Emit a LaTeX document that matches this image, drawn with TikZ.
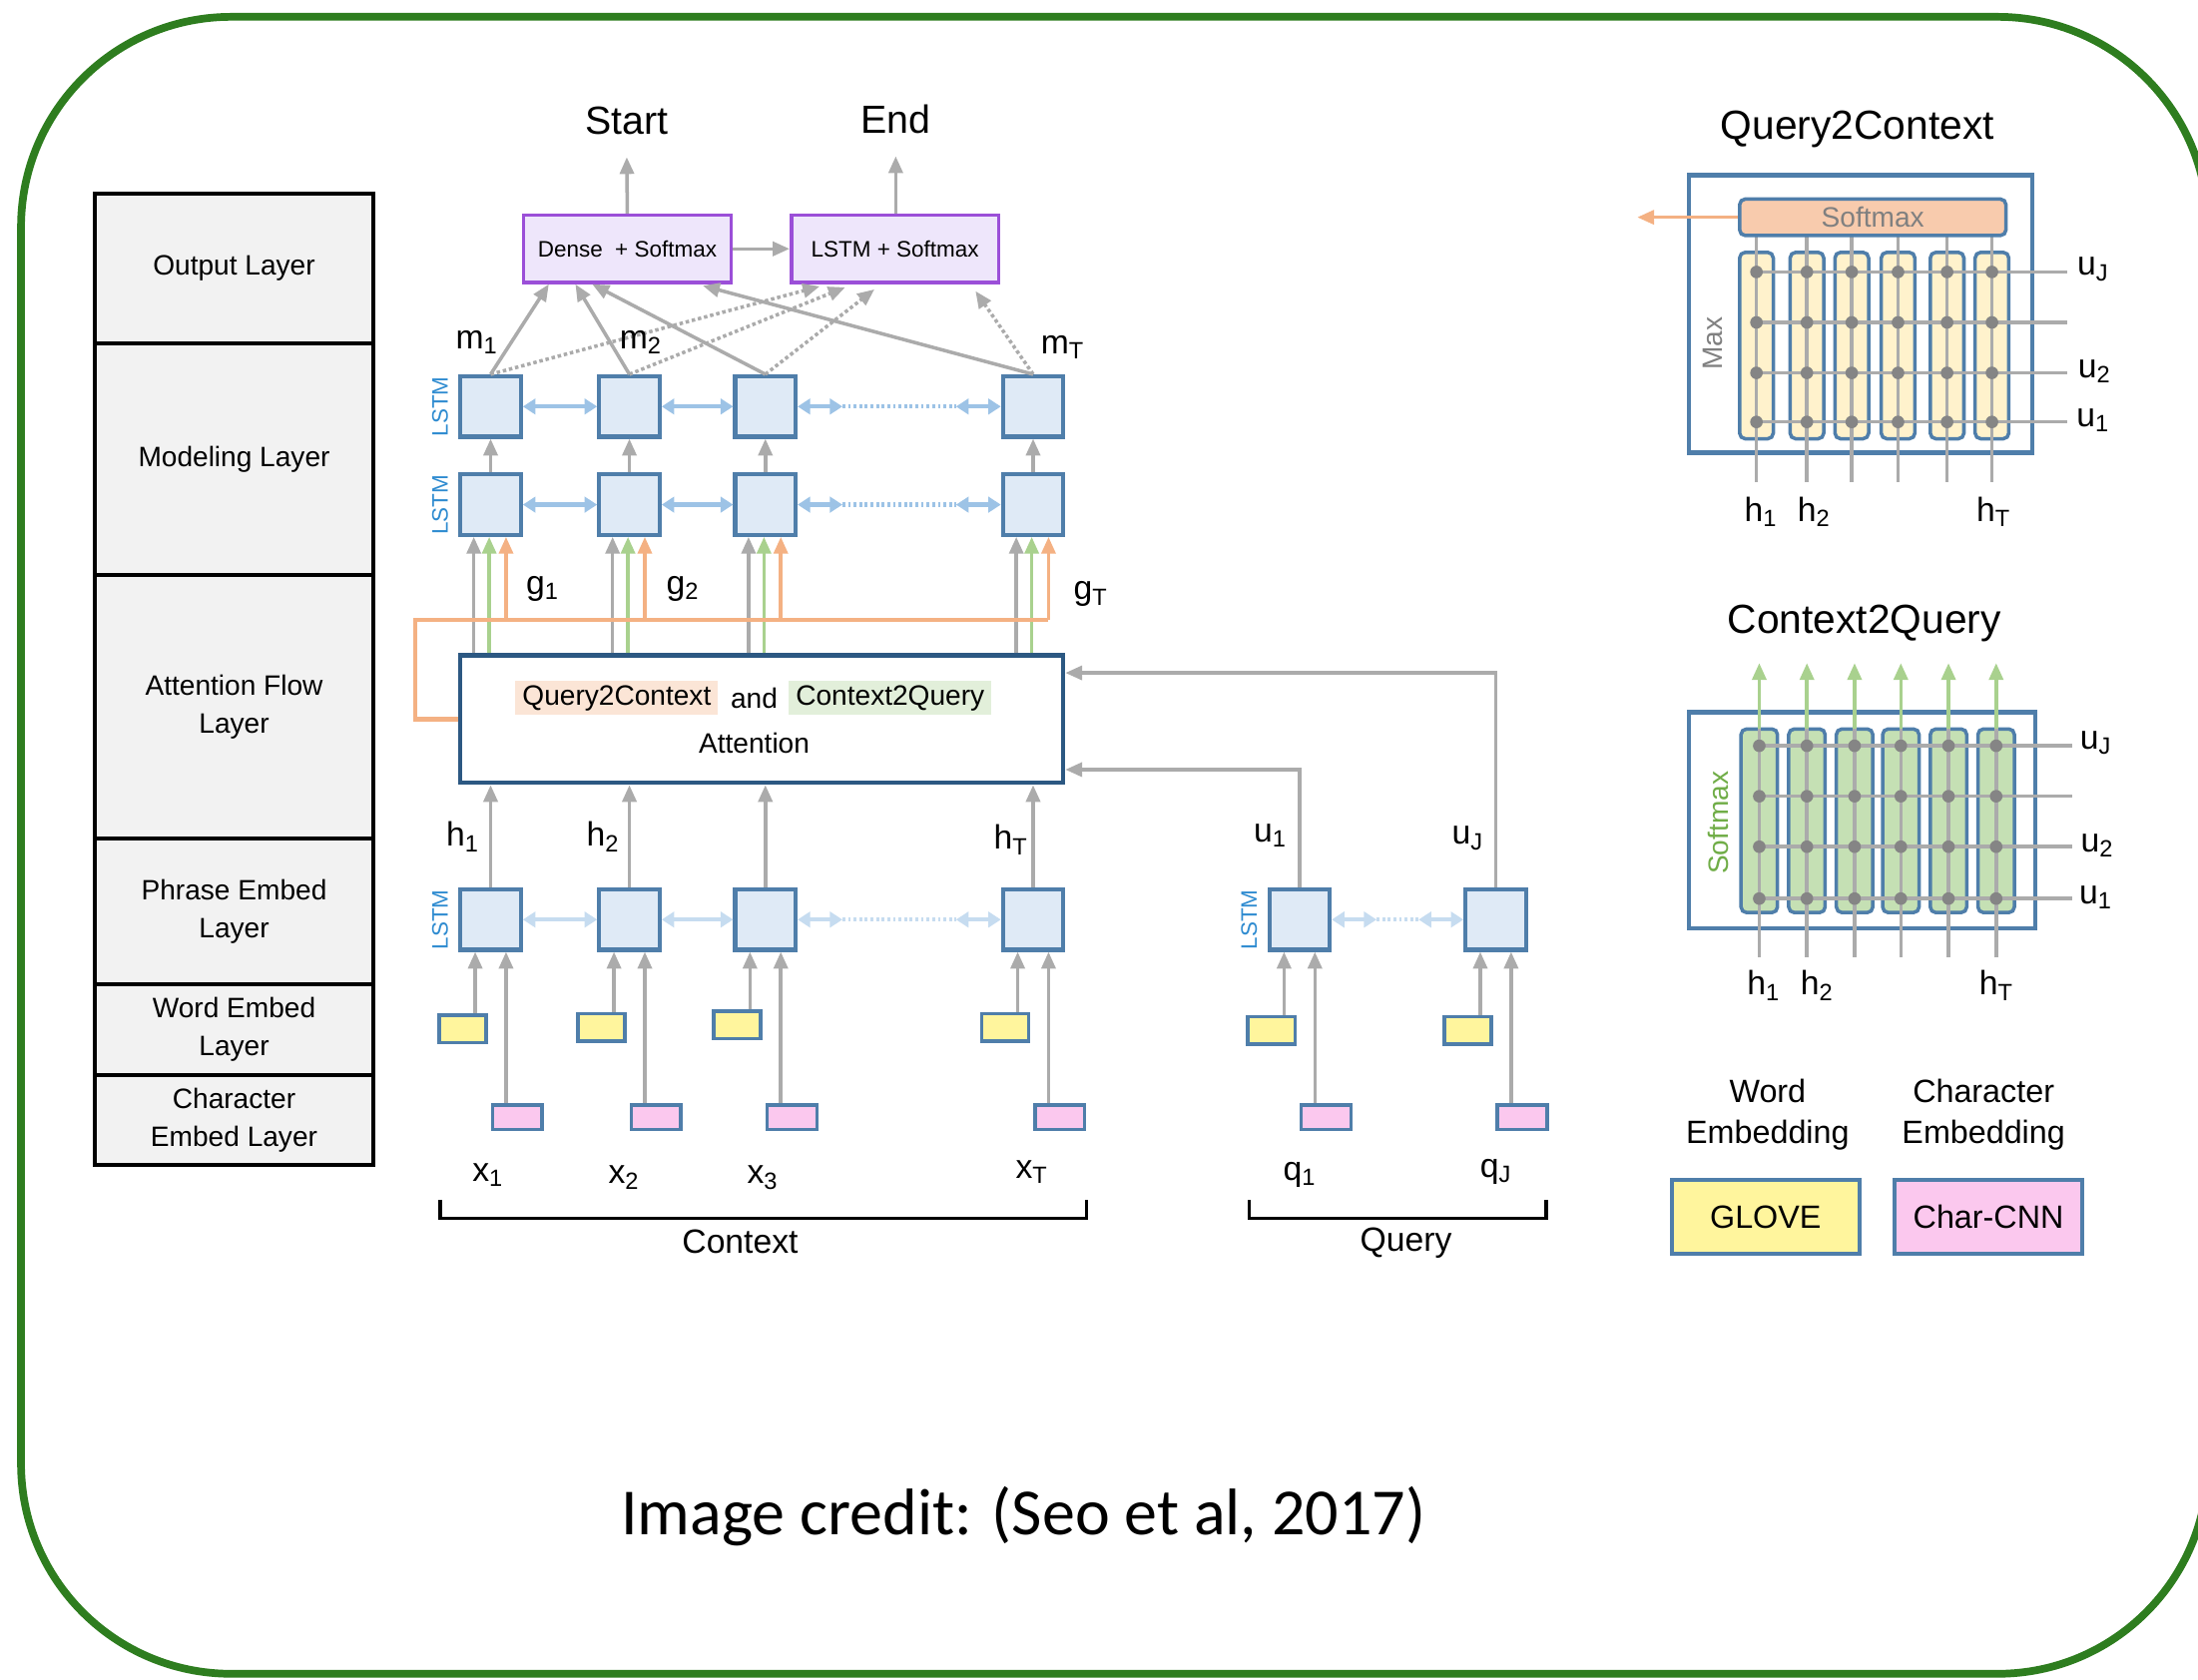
\documentclass[tikz,border=0pt]{standalone}
\usepackage{fontspec}
\setmainfont{Liberation Sans}
\newfontfamily\credfont{Carlito}
\usetikzlibrary{arrows.meta,positioning}

\definecolor{frgreen}{HTML}{2E7D1F}
\definecolor{tabgray}{HTML}{F2F2F2}
\definecolor{boxblue}{HTML}{4F7EAA}
\definecolor{lstmfill}{HTML}{DFEAF6}
\definecolor{attblue}{HTML}{2C5882}
\definecolor{purp}{HTML}{9B4FD8}
\definecolor{purpfill}{HTML}{EEE6FB}
\definecolor{yel}{HTML}{FFF59D}
\definecolor{pnk}{HTML}{FBC8EE}
\definecolor{arrgray}{HTML}{ABABAB}
\definecolor{blue1}{HTML}{9DC3E6}
\definecolor{blue2}{HTML}{C6DCF0}
\definecolor{grn}{HTML}{A9D18E}
\definecolor{org}{HTML}{F4B183}
\definecolor{q2cbg}{HTML}{FBE5D6}
\definecolor{c2qbg}{HTML}{E2EFDA}
\definecolor{smxfill}{HTML}{F8CBAD}
\definecolor{q2ccol}{HTML}{FFF2CC}
\definecolor{c2qcol}{HTML}{C5E0B4}
\definecolor{dotgray}{HTML}{858585}
\definecolor{lstmblue}{HTML}{2E8BD0}
\definecolor{softgray}{HTML}{808080}
\definecolor{softgreen}{HTML}{70AD47}

\newcommand\fs[2]{\fontsize{#1}{#2}\selectfont}
\newcommand\sub[2]{#1\textsubscript{#2}}

\begin{document}
\begin{tikzpicture}[x=1pt,y=-1pt,
    lstm/.style={draw=boxblue,fill=lstmfill,line width=3pt,minimum width=43pt,minimum height=43pt,inner sep=0pt},
    wemb/.style={draw=boxblue,fill=yel,line width=2.5pt,minimum width=33.5pt,minimum height=19.5pt,inner sep=0pt},
    cemb/.style={draw=boxblue,fill=pnk,line width=2.5pt,minimum width=35.5pt,minimum height=17.5pt,inner sep=0pt},
    outbox/.style={draw=purp,fill=purpfill,line width=2.5pt,minimum width=148pt,minimum height=48pt,font=\fs{16}{19}},
    layer/.style={draw=black,fill=tabgray,line width=3pt,minimum width=199pt,align=center,font=\fs{20}{27}},
    lab/.style={font=\fs{24}{28},inner sep=2pt},
    garr/.style={draw=arrgray,line width=2.5pt,-{Triangle[length=12pt,width=10pt]}},
    gdot/.style={garr,dash pattern=on 2.5pt off 2pt},
    carr/.style={draw=grn,line width=2.5pt,-{Triangle[length=12pt,width=10pt]}},
    oarr/.style={draw=org,line width=2.5pt,-{Triangle[length=12pt,width=10pt]}},
    barr/.style={draw=blue1,line width=3pt,{Triangle[length=9pt,width=11pt]}-{Triangle[length=9pt,width=11pt]}},
    parr/.style={barr,draw=blue2},
    gline/.style={draw=arrgray,line width=2.5pt},
    lstmlab/.style={rotate=90,text=lstmblue,font=\fs{16}{18}}
  ]
  \useasboundingbox (0,0) rectangle (1568,1198);
  \draw[draw=frgreen,line width=5.5pt,rounded corners=150pt] (15,12) rectangle (1575,1194);

  % layers
  \node[layer,minimum height=107pt] (lyOut) at (167,191.5) {Output Layer};
  \node[layer,minimum height=165pt] (lyMod) at (167,327.5) {Modeling Layer};
  \node[layer,minimum height=188pt] (lyAtt) at (167,504) {Attention Flow\\Layer};
  \node[layer,minimum height=104pt] (lyPhr) at (167,650) {Phrase Embed\\Layer};
  \node[layer,minimum height=65pt] (lyWrd) at (167,734.5) {Word Embed\\Layer};
  \node[layer,minimum height=64pt] (lyChr) at (167,799) {Character\\Embed Layer};

  % embedding and phrase lstm
  \foreach \n/\x/\wy in {1/350/734,2/449/733,3/546/731,4/737/733,q1/927/735,q2/1067/735}{
    \node[lstm] (p\n) at (\x,656) {};
    \node[wemb] (w\n) at (\x-20,\wy) {};
    \node[cemb] (c\n) at (\x+19,797) {};
    \draw[garr] ([xshift=9pt]w\n.north) -- ([xshift=-11pt]p\n.south);
    \draw[garr] ([xshift=-8pt]c\n.north) -- ([xshift=11pt]p\n.south);
  }
  \draw[parr] (p1) -- (p2);
  \draw[parr] (p2) -- (p3);
  \draw[parr] (p3.east) -- ([xshift=32pt]p3.east);
  \draw[draw=blue2,line width=3pt,dash pattern=on 2pt off 2pt] ([xshift=32pt]p3.east) -- ([xshift=-32pt]p4.west);
  \draw[parr] ([xshift=-32pt]p4.west) -- (p4.west);
  \draw[parr] (pq1.east) -- ([xshift=32pt]pq1.east);
  \draw[draw=blue2,line width=3pt,dash pattern=on 2pt off 2pt] ([xshift=32pt]pq1.east) -- ([xshift=-32pt]pq2.west);
  \draw[parr] ([xshift=-32pt]pq2.west) -- (pq2.west);
  \node[lstmlab] at (314,656) {LSTM};
  \node[lstmlab] at (891,656) {LSTM};

  % attention
  \node[draw=attblue,fill=white,line width=3pt,minimum width=430pt,minimum height=91pt] (att) at (543.5,513) {};
  \node[fill=q2cbg,font=\fs{20}{24},inner xsep=5pt,inner ysep=3pt] (q2c) at (440,498) {Query2Context};
  \node[font=\fs{20}{24}] (and) at (538,498) {and};
  \node[fill=c2qbg,font=\fs{20}{24},inner xsep=5pt,inner ysep=3pt] (c2q) at (635,498) {Context2Query};
  \node[font=\fs{20}{24}] (attn) at (538,530) {Attention};
  \draw[garr] (pq2.north) |- (att.east |- 0,480);
  \draw[garr] (pq1.north) |- (att.east |- 0,549);

  % modeling lstm
  \foreach \i/\x in {1/350,2/449,3/546,4/737}{
    \node[lstm] (mA\i) at (\x,290) {};
    \node[lstm] (mB\i) at (\x,360) {};
    \draw[garr] (mB\i.north) -- (mA\i.south);
    \draw[garr] (p\i.north) -- (p\i.north |- att.south);
    \coordinate (gg\i) at ([xshift=-12pt]mB\i.south);
    \coordinate (gc\i) at ([xshift=-1pt]mB\i.south);
    \coordinate (go\i) at ([xshift=11pt]mB\i.south);
    \draw[garr] (gg\i |- att.north) -- (gg\i);
    \draw[carr] (gc\i |- att.north) -- (gc\i);
    \draw[oarr] (go\i |- 0,442) -- (go\i);
  }
  \draw[draw=org,line width=3pt] (att.west) -| (296,442) -- (go4 |- 0,442);
  \foreach \r in {mA,mB}{
    \draw[barr] (\r1) -- (\r2);
    \draw[barr] (\r2) -- (\r3);
    \draw[barr] (\r3.east) -- ([xshift=32pt]\r3.east);
    \draw[draw=blue1,line width=3pt,dash pattern=on 2pt off 2pt] ([xshift=32pt]\r3.east) -- ([xshift=-32pt]\r4.west);
    \draw[barr] ([xshift=-32pt]\r4.west) -- (\r4.west);
  }
  \node[lstmlab] at (314,290) {LSTM};
  \node[lstmlab] at (314,360) {LSTM};

  % output layer
  \node[outbox] (dense) at (447.5,177.5) {Dense\ \ +\ Softmax};
  \node[outbox] (lsm) at (638.5,177.5) {LSTM + Softmax};
  \node[font=\fs{28}{32},inner sep=2pt] (start) at (447,86) {Start};
  \node[font=\fs{28}{32},inner sep=2pt] (end) at (639,85) {End};
  \draw[garr,shorten >=14pt] (dense.north) -- (start.south);
  \draw[garr,shorten >=14pt] (lsm.north -| end.south) -- (end.south);
  \draw[garr] (dense) -- (lsm);
  \draw[gdot,shorten >=6pt] (mA1.north) -- ([xshift=-48pt]lsm.south);
  \draw[gdot,shorten >=6pt] (mA2.north) -- ([xshift=-30pt]lsm.south);
  \draw[gdot,shorten >=6pt] (mA3.north) -- ([xshift=-10pt]lsm.south);
  \draw[gdot,shorten >=6pt] (mA4.north) -- ([xshift=54pt]lsm.south);
  \draw[garr] (mA1.north) -- ([xshift=-56pt]dense.south);
  \draw[garr] (mA2.north) -- ([xshift=-37pt]dense.south);
  \draw[garr] (mA3.north) -- ([xshift=-25pt]dense.south);
  \draw[garr,shorten >=4pt] (mA4.north) -- ([xshift=50pt]dense.south);

  % labels
  \node[lab] at (340,244) {\sub{m}{1}};
  \node[lab] at (457,244) {\sub{m}{2}};
  \node[lab] at (758,248) {\sub{m}{T}};
  \node[lab] at (387,420) {\sub{g}{1}};
  \node[lab] at (487,420) {\sub{g}{2}};
  \node[lab] at (778,424) {\sub{g}{T}};
  \node[lab] at (330,597) {\sub{h}{1}};
  \node[lab] at (430,597) {\sub{h}{2}};
  \node[lab] at (721,599) {\sub{h}{T}};
  \node[lab] at (906,596) {\sub{u}{1}};
  \node[lab] at (1047,598) {\sub{u}{J}};
  \node[lab] at (348,838) {\sub{x}{1}};
  \node[lab] at (445,840) {\sub{x}{2}};
  \node[lab] at (544,840) {\sub{x}{3}};
  \node[lab] at (736,836) {\sub{x}{T}};
  \node[lab] at (927,838) {\sub{q}{1}};
  \node[lab] at (1067,836) {\sub{q}{J}};

  % brackets
  \draw[line width=2.5pt] (314,856) |- (775,869) -- (775,856);
  \draw[line width=2.5pt] (891,856) |- (1103,869) -- (1103,856);
  \node[lab] (ctx) at (528,886) {Context};
  \node[lab] (qry) at (1003,887) {Query};

  % query2context panel
  \node[font=\fs{29}{34}] (q2ct) at (1325,92) {Query2Context};
  \draw[draw=boxblue,line width=3pt,fill=white] (1205,125) rectangle (1450,323);
  \foreach \x in {1253,1289,1321,1354,1389,1421}
    \draw[draw=boxblue,fill=q2ccol,line width=2.5pt,rounded corners=4pt] (\x-12,180) rectangle (\x+12,313);
  \foreach \x in {1253,1289,1321,1354,1389,1421}
    \draw[gline] (\x,169) -- (\x,344);
  \foreach \y in {194,230,266,301}
    \draw[gline] (1253,\y) -- (1475,\y);
  \foreach \x in {1253,1289,1321,1354,1389,1421}
    \foreach \y in {194,230,266,301}
      \fill[dotgray] (\x,\y) circle (4.5pt);
  \node[draw=boxblue,fill=smxfill,line width=2.5pt,rounded corners=4pt,minimum width=190pt,minimum height=26pt,inner sep=0pt,text=softgray,font=\fs{20}{24}] (smx) at (1336,155) {Softmax};
  \coordinate (q2cout) at (1168,155);
  \draw[oarr] (smx.west) -- (q2cout);
  \node[rotate=90,text=softgray,font=\fs{20}{24}] at (1222,245) {Max};
  \node[lab] at (1493,192) {\sub{u}{J}};
  \node[lab] at (1494,265) {\sub{u}{2}};
  \node[lab] at (1493,300) {\sub{u}{1}};
  \node[lab] at (1256,365) {\sub{h}{1}};
  \node[lab] at (1294,365) {\sub{h}{2}};
  \node[lab] at (1422,365) {\sub{h}{T}};

  % context2query panel
  \node[font=\fs{29}{34}] (c2qt) at (1330,445) {Context2Query};
  \draw[draw=boxblue,line width=3pt,fill=white] (1205,508) rectangle (1452,662);
  \foreach \x in {1255,1289,1323,1356,1390,1424}
    \draw[draw=boxblue,fill=c2qcol,line width=2.5pt,rounded corners=4pt] (\x-13,520) rectangle (\x+13,651);
  \foreach \x in {1255,1289,1323,1356,1390,1424}{
    \draw[gline] (\x,683) -- (\x,520);
    \draw[carr] (\x,520) -- (\x,473);
  }
  \foreach \y in {532,568,604,641}
    \draw[gline] (1255,\y) -- (1478,\y);
  \foreach \x in {1255,1289,1323,1356,1390,1424}
    \foreach \y in {532,568,604,641}
      \fill[dotgray] (\x,\y) circle (4.5pt);
  \node[rotate=90,text=softgreen,font=\fs{20}{24}] at (1226,587) {Softmax};
  \node[lab] at (1495,530) {\sub{u}{J}};
  \node[lab] at (1496,603) {\sub{u}{2}};
  \node[lab] at (1495,640) {\sub{u}{1}};
  \node[lab] at (1258,703) {\sub{h}{1}};
  \node[lab] at (1296,703) {\sub{h}{2}};
  \node[lab] at (1424,703) {\sub{h}{T}};

  % legend
  \node[align=center,font=\fs{23}{29}] (wlab) at (1261,795) {Word\\Embedding};
  \node[align=center,font=\fs{23}{29}] (clab) at (1415,795) {Character\\Embedding};
  \node[draw=boxblue,fill=yel,line width=3pt,minimum width=134pt,minimum height=53pt,font=\fs{23}{27}] (glove) at (1259.5,868) {GLOVE};
  \node[draw=boxblue,fill=pnk,line width=3pt,minimum width=134pt,minimum height=53pt,font=\fs{23}{27}] (ccnn) at (1418.5,868) {Char-CNN};

  \node[font=\credfont\fs{47}{54}] (credit) at (730,1082) {Image credit: (Seo et al, 2017)};
\end{tikzpicture}
\end{document}
